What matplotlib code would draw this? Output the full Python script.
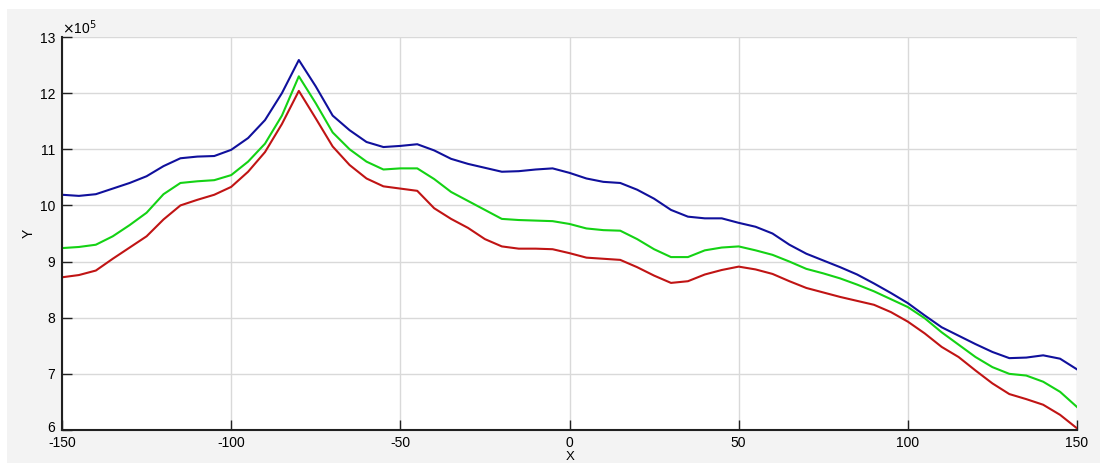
import matplotlib
matplotlib.use("Agg")
import matplotlib.pyplot as plt
import matplotlib.transforms as mtransforms
from matplotlib.patches import Rectangle

plt.rcParams['font.family'] = ['Liberation Sans', 'DejaVu Sans']
plt.rcParams['axes.unicode_minus'] = False

x = [-150, -145, -140, -135, -130, -125, -120, -115, -110, -105,
     -100, -95, -90, -85, -80, -75, -70, -65, -60, -55,
     -50, -45, -40, -35, -30, -25, -20, -15, -10, -5,
     0, 5, 10, 15, 20, 25, 30, 35, 40, 45,
     50, 55, 60, 65, 70, 75, 80, 85, 90, 95,
     100, 105, 110, 115, 120, 125, 130, 135, 140, 145, 150]

blue = [10.19, 10.17, 10.20, 10.30, 10.40, 10.52, 10.70, 10.84, 10.87, 10.88,
        10.99, 11.20, 11.52, 12.00, 12.59, 12.12, 11.60, 11.34, 11.13, 11.04,
        11.06, 11.09, 10.98, 10.83, 10.74, 10.67, 10.60, 10.61, 10.64, 10.66,
        10.58, 10.48, 10.42, 10.40, 10.28, 10.12, 9.92, 9.80, 9.77, 9.77,
        9.69, 9.62, 9.50, 9.30, 9.14, 9.02, 8.90, 8.77, 8.61, 8.44,
        8.26, 8.04, 7.83, 7.68, 7.53, 7.39, 7.28, 7.29, 7.33, 7.27, 7.08]

green = [9.24, 9.26, 9.30, 9.45, 9.65, 9.87, 10.20, 10.40, 10.43, 10.45,
         10.54, 10.78, 11.10, 11.60, 12.30, 11.82, 11.30, 11.00, 10.78, 10.64,
         10.66, 10.66, 10.47, 10.24, 10.08, 9.92, 9.76, 9.74, 9.73, 9.72,
         9.67, 9.59, 9.56, 9.55, 9.40, 9.22, 9.08, 9.08, 9.20, 9.25,
         9.27, 9.20, 9.12, 9.00, 8.87, 8.79, 8.70, 8.59, 8.47, 8.33,
         8.19, 7.99, 7.74, 7.52, 7.30, 7.12, 7.00, 6.97, 6.86, 6.68, 6.41]

red = [8.72, 8.76, 8.84, 9.05, 9.25, 9.45, 9.75, 10.00, 10.10, 10.19,
       10.33, 10.60, 10.95, 11.45, 12.04, 11.55, 11.05, 10.72, 10.48, 10.34,
       10.30, 10.26, 9.95, 9.76, 9.60, 9.40, 9.27, 9.23, 9.23, 9.22,
       9.15, 9.07, 9.05, 9.03, 8.90, 8.75, 8.62, 8.65, 8.77, 8.85,
       8.91, 8.86, 8.78, 8.65, 8.53, 8.45, 8.37, 8.30, 8.23, 8.10,
       7.93, 7.72, 7.48, 7.30, 7.06, 6.83, 6.64, 6.55, 6.45, 6.27, 6.03]

xticks = [-150, -100, -50, 0, 50, 100, 150]
yticks = [6, 7, 8, 9, 10, 11, 12, 13]

W, H = 1100, 463
fig = plt.figure(figsize=(W / 100, H / 100), dpi=100, facecolor='white')
fig.patches.append(Rectangle((7 / W, 0), 1 - 7 / W, 1 - 9 / H,
                             transform=fig.transFigure, facecolor='#f3f3f3',
                             edgecolor='none', zorder=-10))

ax = fig.add_axes([62 / W, 1 - 430 / H, (1077 - 62) / W, (430 - 37) / H])
ax.set_facecolor('white')

ax.plot(x, blue, color='#10109c', lw=1.5)
ax.plot(x, green, color='#14d214', lw=1.5)
ax.plot(x, red, color='#c01414', lw=1.5)

ax.set_xlim(-150, 150)
ax.set_ylim(6, 13)
ax.set_xticks(xticks)
ax.set_yticks(yticks)
ax.grid(True, color='#d9d9d9', lw=1.0)
ax.set_axisbelow(True)

for s in ['top', 'right']:
    ax.spines[s].set_visible(False)
for s in ['left', 'bottom']:
    ax.spines[s].set_linewidth(1.5)
    ax.spines[s].set_color('#202020')

ax.tick_params(direction='in', length=7, width=1.0, colors='#202020',
               labelsize=10, labelcolor='black')
ax.tick_params(axis='x', pad=4)
ax.tick_params(axis='y', pad=5)

# raise the lowest y tick label slightly so it sits above "-150"
fig.canvas.draw()
lbl6 = ax.get_yticklabels()[0]
lbl6.set_transform(lbl6.get_transform() +
                   mtransforms.ScaledTranslation(0, 4 / 100, fig.dpi_scale_trans))

ax.text(0.0, 1.0, r'$\times$10$^{5}$', transform=ax.transAxes,
        ha='left', va='bottom', fontsize=10)

fig.text(570 / W, 0.5 / H, 'X', ha='center', va='bottom', fontsize=9.5)
fig.text(29 / W, 1 - 233 / H, 'Y', ha='center', va='center', rotation=90,
         fontsize=10)

fig.savefig('out.png', dpi=100, facecolor=fig.get_facecolor())
